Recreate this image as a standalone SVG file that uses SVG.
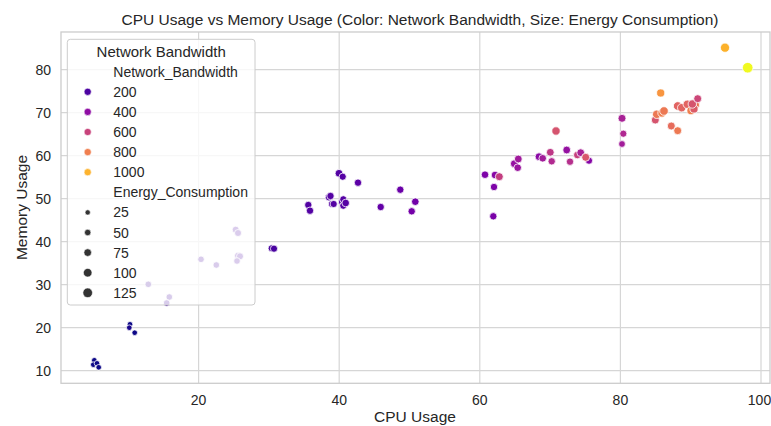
<svg xmlns="http://www.w3.org/2000/svg" width="771" height="426" viewBox="0 0 771 426">
  <style>
    text { font-family: "Liberation Sans", Arial, sans-serif; fill: #262626; }
    .grid { stroke: #d6d6d6; stroke-width: 1.2; fill: none; }
    .spine { stroke: #cccccc; stroke-width: 1.3; fill: none; }
    .tick { font-size: 14px; }
    .xt { text-anchor: middle; }
    .yt { text-anchor: end; }
    .lab { font-size: 15.5px; }
    .title { font-size: 15.5px; text-anchor: middle; }
    .pts circle { stroke: #ffffff; stroke-width: 0.8; }
    .leg text { font-size: 14px; }
    .leg .lt { font-size: 15px; text-anchor: middle; }
    .szm { fill: #333333; stroke: #ffffff; stroke-width: 0.6; }
  </style>

  <rect x="0" y="0" width="771" height="426" fill="#ffffff"/>

  <!-- title -->
  <text class="title" x="420" y="25">CPU Usage vs Memory Usage (Color: Network Bandwidth, Size: Energy Consumption)</text>

  <!-- grid -->
  <g id="grid">
    <path class="grid" d="M198.6 32V383.3 M339.2 32V383.3 M479.8 32V383.3 M620.4 32V383.3 M761 32V383.3"/>
    <path class="grid" d="M61 370.7H770 M61 327.7H770 M61 284.7H770 M61 241.7H770 M61 198.7H770 M61 155.7H770 M61 112.7H770 M61 69.7H770"/>
  </g>

  <!-- frame -->
  <rect id="frame" class="spine" x="61" y="32" width="709" height="351.3"/>

  <!-- x ticks -->
  <g id="xticks" class="tick">
    <text class="xt" x="198.6" y="405">20</text>
    <text class="xt" x="339.2" y="405">40</text>
    <text class="xt" x="479.8" y="405">60</text>
    <text class="xt" x="620.4" y="405">80</text>
    <text class="xt" x="759.5" y="405">100</text>
  </g>
  <!-- y ticks -->
  <g id="yticks" class="tick">
    <text class="yt" x="51" y="375.7">10</text>
    <text class="yt" x="51" y="332.7">20</text>
    <text class="yt" x="51" y="289.7">30</text>
    <text class="yt" x="51" y="246.7">40</text>
    <text class="yt" x="51" y="203.7">50</text>
    <text class="yt" x="51" y="160.7">60</text>
    <text class="yt" x="51" y="117.7">70</text>
    <text class="yt" x="51" y="74.7">80</text>
  </g>

  <!-- axis labels -->
  <text class="lab" x="415" y="422" text-anchor="middle">CPU Usage</text>
  <text class="lab" transform="translate(27 207.5) rotate(-90)" text-anchor="middle">Memory Usage</text>

  <!-- data points -->
  <g id="points" class="pts">
    <circle cx="94.3" cy="360.3" r="2.8" fill="#0d0887"/>
    <circle cx="93.3" cy="364.7" r="2.8" fill="#0d0887"/>
    <circle cx="97" cy="363.3" r="2.8" fill="#0d0887"/>
    <circle cx="98.7" cy="367.3" r="2.8" fill="#0d0887"/>
    <circle cx="130" cy="324.3" r="2.8" fill="#0d0887"/>
    <circle cx="129.3" cy="327.7" r="2.8" fill="#1a068c"/>
    <circle cx="134.7" cy="332.7" r="2.8" fill="#0d0887"/>

    <circle cx="148.3" cy="284.3" r="3.3" fill="#3c0596"/>
    <circle cx="169.3" cy="297" r="3.3" fill="#3e049c"/>
    <circle cx="166.7" cy="303" r="3.3" fill="#3e049c"/>
    <circle cx="201" cy="259.3" r="3.3" fill="#41049d"/>
    <circle cx="216.3" cy="265" r="3.3" fill="#41049d"/>
    <circle cx="235.7" cy="229.7" r="3.5" fill="#45039e"/>
    <circle cx="238" cy="233" r="3.5" fill="#45039e"/>
    <circle cx="238" cy="255.7" r="3.5" fill="#45039e"/>
    <circle cx="240" cy="256.3" r="3.5" fill="#45039e"/>
    <circle cx="237" cy="261" r="3.3" fill="#45039e"/>

    <circle cx="271.7" cy="248.3" r="3.6" fill="#4903a0"/>
    <circle cx="274" cy="248.7" r="3.6" fill="#4903a0"/>
    <circle cx="308.3" cy="205" r="3.7" fill="#5302a3"/>
    <circle cx="310" cy="210.7" r="3.7" fill="#5302a3"/>
    <circle cx="339" cy="173.3" r="3.9" fill="#5302a3"/>
    <circle cx="342.7" cy="176.7" r="3.6" fill="#5602a4"/>
    <circle cx="358" cy="182.7" r="3.7" fill="#5c01a6"/>
    <circle cx="329" cy="197.3" r="3.7" fill="#5402a3"/>
    <circle cx="330.5" cy="196" r="3.7" fill="#5402a3"/>
    <circle cx="332" cy="204" r="3.6" fill="#5402a3"/>
    <circle cx="333.7" cy="204" r="3.6" fill="#5402a3"/>
    <circle cx="342" cy="202" r="3.6" fill="#5602a4"/>
    <circle cx="343.3" cy="199.3" r="3.6" fill="#5602a4"/>
    <circle cx="343.3" cy="205.7" r="3.6" fill="#5602a4"/>
    <circle cx="345.7" cy="203" r="3.8" fill="#5602a4"/>
    <circle cx="380.7" cy="207" r="3.7" fill="#6300a7"/>
    <circle cx="400.3" cy="189.7" r="3.7" fill="#6a00a8"/>
    <circle cx="415.3" cy="201.7" r="3.8" fill="#7201a8"/>
    <circle cx="411.7" cy="211.3" r="3.7" fill="#7501a8"/>

    <circle cx="485" cy="174.7" r="3.8" fill="#7e03a8"/>
    <circle cx="495" cy="175" r="3.8" fill="#8707a6"/>
    <circle cx="499.3" cy="176.7" r="4" fill="#c33d80"/>
    <circle cx="494" cy="187" r="3.7" fill="#7e03a8"/>
    <circle cx="493.3" cy="216.3" r="3.7" fill="#7a02a8"/>
    <circle cx="514.3" cy="163.7" r="3.9" fill="#9511a1"/>
    <circle cx="517.7" cy="167.7" r="3.8" fill="#9a169f"/>
    <circle cx="518.3" cy="159" r="3.9" fill="#a01a9c"/>
    <circle cx="539" cy="156.7" r="3.9" fill="#8a09a5"/>
    <circle cx="542.7" cy="158.3" r="3.8" fill="#a21d9a"/>
    <circle cx="550.3" cy="152.3" r="3.9" fill="#bd3786"/>
    <circle cx="551.7" cy="161.3" r="3.7" fill="#b12a90"/>
    <circle cx="556" cy="131" r="4.2" fill="#d5546e"/>
    <circle cx="566.7" cy="150" r="3.9" fill="#9511a1"/>
    <circle cx="570" cy="161.7" r="3.7" fill="#b52f8c"/>
    <circle cx="577.3" cy="155" r="3.8" fill="#c6417d"/>
    <circle cx="580.7" cy="152.7" r="3.9" fill="#a82296"/>
    <circle cx="589" cy="160.7" r="3.6" fill="#8606a6"/>
    <circle cx="585.7" cy="157.3" r="4" fill="#d8576b"/>

    <circle cx="622" cy="118.3" r="4" fill="#a82296"/>
    <circle cx="623.3" cy="133.7" r="3.6" fill="#b02991"/>
    <circle cx="622" cy="144" r="3.4" fill="#a21d9a"/>
    <circle cx="660.7" cy="93" r="4.1" fill="#f89540"/>
    <circle cx="655.3" cy="120" r="4" fill="#d5546e"/>
    <circle cx="656.7" cy="114.3" r="4.2" fill="#ec7853"/>
    <circle cx="662" cy="113" r="4.2" fill="#f07f4f"/>
    <circle cx="664" cy="111" r="4.3" fill="#ec7853"/>
    <circle cx="671.3" cy="126" r="4" fill="#e66c5c"/>
    <circle cx="677.7" cy="130.7" r="4" fill="#ed7953"/>
    <circle cx="677.7" cy="106" r="4.3" fill="#e16462"/>
    <circle cx="681.7" cy="107.7" r="4.2" fill="#e26561"/>
    <circle cx="687.3" cy="104.3" r="4.2" fill="#e26561"/>
    <circle cx="691" cy="110.7" r="4.1" fill="#ef7f4f"/>
    <circle cx="695.5" cy="105" r="4" fill="#e8704e"/>
    <circle cx="694" cy="109" r="4.1" fill="#db5c68"/>
    <circle cx="692.3" cy="104" r="4.2" fill="#d5546e"/>
    <circle cx="697.7" cy="98.7" r="4" fill="#cc4778"/>
    <circle cx="725" cy="47.7" r="4.6" fill="#fcb12a"/>
    <circle cx="747.7" cy="67.7" r="5.3" fill="#f0f921"/>
  </g>

  <!-- legend -->
  <g id="legend" class="leg">
    <rect x="67.3" y="39.3" width="187.7" height="265.7" rx="3" fill="#ffffff" fill-opacity="0.8" stroke="#cccccc" stroke-width="1"/>
    <text class="lt" x="161.2" y="56.7">Network Bandwidth</text>
    <text x="113.3" y="76.7">Network_Bandwidth</text>
    <circle cx="87.7" cy="91.8" r="3.6" fill="#4c02a1" stroke="#ffffff" stroke-width="0.6"/>
    <text x="113.3" y="96.8">200</text>
    <circle cx="87.7" cy="111.9" r="3.6" fill="#8f0da4" stroke="#ffffff" stroke-width="0.6"/>
    <text x="113.3" y="116.9">400</text>
    <circle cx="87.7" cy="132" r="3.6" fill="#c8437b" stroke="#ffffff" stroke-width="0.6"/>
    <text x="113.3" y="137">600</text>
    <circle cx="87.7" cy="152.1" r="3.6" fill="#f07f4f" stroke="#ffffff" stroke-width="0.6"/>
    <text x="113.3" y="157.1">800</text>
    <circle cx="87.7" cy="172.2" r="3.6" fill="#fdb32f" stroke="#ffffff" stroke-width="0.6"/>
    <text x="113.3" y="177.2">1000</text>
    <text x="113.3" y="197.3">Energy_Consumption</text>
    <circle class="szm" cx="87.7" cy="212.4" r="2.6"/>
    <text x="113.3" y="217.4">25</text>
    <circle class="szm" cx="87.7" cy="232.5" r="3.2"/>
    <text x="113.3" y="237.5">50</text>
    <circle class="szm" cx="87.7" cy="252.6" r="3.8"/>
    <text x="113.3" y="257.6">75</text>
    <circle class="szm" cx="87.7" cy="272.7" r="4.3"/>
    <text x="113.3" y="277.7">100</text>
    <circle class="szm" cx="87.7" cy="292.8" r="4.8"/>
    <text x="113.3" y="297.8">125</text>
  </g>
</svg>
